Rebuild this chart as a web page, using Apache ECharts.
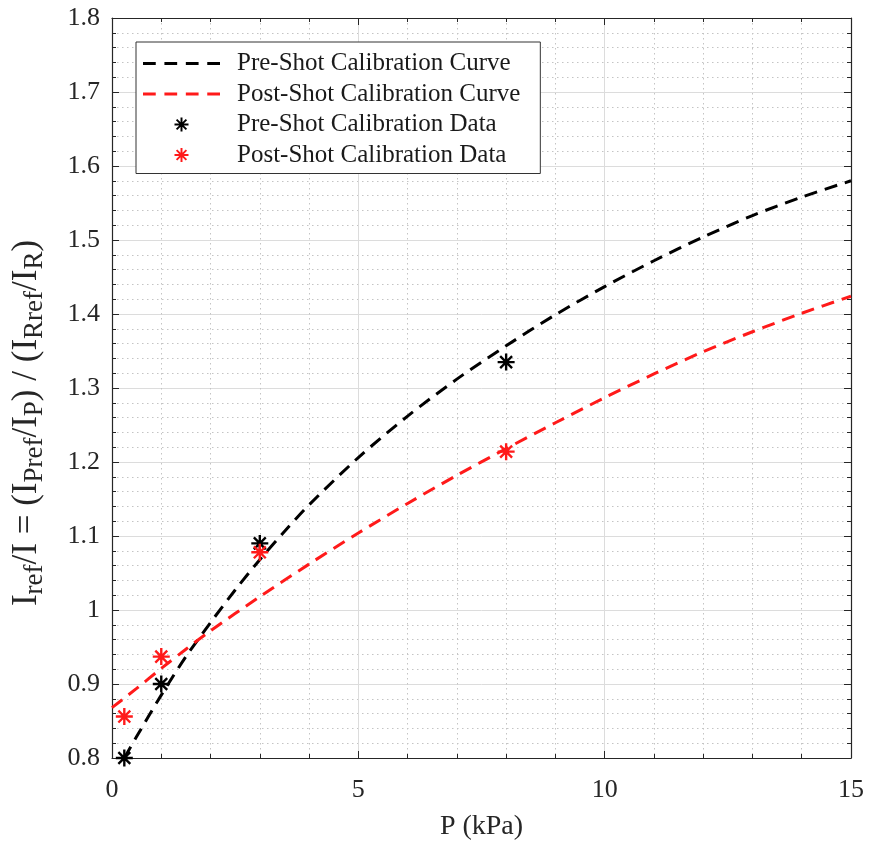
<!DOCTYPE html>
<html>
<head>
<meta charset="utf-8">
<script src="https://cdn.jsdelivr.net/npm/echarts@6/dist/echarts.min.js"></script>
<style>
  html, body { margin: 0; padding: 0; background: #fff; }
  #chart { width: 869px; height: 842px; }
</style>
</head>
<body>
<div id="chart"></div>
<script>
// Calibration measurements (pressure in kPa)
const dataPressure = [0.25, 1, 3, 8];
const preShotData = [0.80, 0.90, 1.09, 1.335];
const postShotData = [0.856, 0.937, 1.078, 1.214];

// Fitted calibration curves, sampled along pressure
const preCurveP = [0.25, 0.5, 1, 1.5, 2, 2.5, 3, 3.5, 4, 5, 6, 7, 8, 9, 10, 11, 12, 13, 14, 15];
const preCurve = [0.800, 0.829, 0.885, 0.937, 0.983, 1.027, 1.068, 1.106, 1.142, 1.206, 1.262, 1.312, 1.357, 1.399, 1.437, 1.472, 1.504, 1.533, 1.558, 1.580];
const postCurveP = [0, 0.5, 1, 1.5, 2, 3, 4, 5, 6, 7, 8, 9, 10, 11, 12, 13, 14, 15];
const postCurve = [0.868, 0.894, 0.921, 0.947, 0.972, 1.018, 1.062, 1.104, 1.144, 1.182, 1.218, 1.253, 1.287, 1.319, 1.349, 1.376, 1.401, 1.424];

const seriesNames = [
  'Pre-Shot Calibration Curve',
  'Post-Shot Calibration Curve',
  'Pre-Shot Calibration Data',
  'Post-Shot Calibration Data'
];

const xRange = { min: 0, max: 15, interval: 5 };
const yRange = { min: 0.8, max: 1.8, interval: 0.1 };

const FONT = '"Liberation Serif", "Times New Roman", serif';
const AXIS_COLOR = '#262626';
const RED = '#ff1a1a';

// eight-armed asterisk marker
const ASTERISK = 'path://M43 0 L57 0 L57 100 L43 100 Z M0 43 L100 43 L100 57 L0 57 Z ' +
  'M10.1 19.9 L19.9 10.1 L89.9 80.1 L80.1 89.9 Z M19.9 89.9 L10.1 80.1 L80.1 10.1 L89.9 19.9 Z';

// four-dash legend key for the dashed curves
const DASH_KEY = 'path://M0 0 L12.5 0 L12.5 3 L0 3 Z M21 0 L33.5 0 L33.5 3 L21 3 Z ' +
  'M42 0 L54.5 0 L54.5 3 L42 3 Z M63 0 L75.5 0 L75.5 3 L63 3 Z';

const zip = (xs, ys) => xs.map((x, i) => [x, ys[i]]);

const chart = echarts.init(document.getElementById('chart'), null, { renderer: 'canvas' });

function valueAxis(range, extra) {
  return Object.assign({
    type: 'value',
    min: range.min,
    max: range.max,
    interval: range.interval,
    axisLine: { show: true, onZero: false, lineStyle: { color: AXIS_COLOR, width: 1.2 } },
    axisTick: { show: true, inside: true, length: 7, lineStyle: { color: AXIS_COLOR, width: 1 } },
    minorTick: { show: true, splitNumber: 5, length: 4, lineStyle: { color: AXIS_COLOR, width: 1 } },
    splitLine: { show: false },
    minorSplitLine: { show: false },
    axisLabel: { show: false }
  }, extra || {});
}

const yName = '{m|I}{s|ref}{m|/I = (I}{s|Pref}{m|/I}{s|P}{m|) / (I}{s|Rref}{m|/I}{s|R}{m|)}';

chart.setOption({
  animation: false,
  backgroundColor: '#fff',
  grid: { left: 112, right: 18, top: 18, bottom: 84, containLabel: false, outerBoundsMode: 'none' },
  legend: {
    left: 136,
    top: 42,
    orient: 'vertical',
    data: [
      { name: seriesNames[0], icon: DASH_KEY },
      { name: seriesNames[1], icon: DASH_KEY },
      { name: seriesNames[2] },
      { name: seriesNames[3] }
    ],
    itemWidth: 77,
    itemHeight: 14,
    itemGap: 5.5,
    padding: [9, 20, 6, 7],
    backgroundColor: '#fff',
    borderColor: '#333',
    borderWidth: 1,
    textStyle: { fontFamily: FONT, fontSize: 25, color: '#1a1a1a', padding: [0, 0, 0, 12] }
  },
  xAxis: [
    valueAxis(xRange, {
      position: 'bottom',
      splitLine: { show: true, lineStyle: { color: '#dcdcdc', width: 1 } },
      minorSplitLine: { show: true, lineStyle: { color: '#c4c4c4', width: 1, type: [1.5, 3.5] } },
      axisLabel: { show: true, margin: 19, fontFamily: FONT, fontSize: 26, color: AXIS_COLOR },
      name: 'P (kPa)',
      nameLocation: 'middle',
      nameGap: 55,
      nameTextStyle: { fontFamily: FONT, fontSize: 28, color: AXIS_COLOR }
    }),
    valueAxis(xRange, { position: 'top' })
  ],
  yAxis: [
    valueAxis(yRange, {
      position: 'left',
      splitLine: { show: true, lineStyle: { color: '#dcdcdc', width: 1 } },
      minorSplitLine: { show: true, lineStyle: { color: '#c4c4c4', width: 1, type: [1.5, 3.5] } },
      axisLabel: {
        show: true, margin: 12, fontFamily: FONT, fontSize: 26, color: AXIS_COLOR,
        formatter: v => String(+v.toFixed(1))
      },
      name: yName,
      nameLocation: 'middle',
      nameRotate: 90,
      nameGap: 68,
      nameTextStyle: {
        color: AXIS_COLOR,
        padding: [0, 70, 0, 0],
        rich: {
          m: { fontFamily: FONT, fontSize: 35, lineHeight: 35, color: AXIS_COLOR },
          s: { fontFamily: FONT, fontSize: 27, lineHeight: 27, padding: [16, 0, 0, 0], color: AXIS_COLOR }
        }
      }
    }),
    valueAxis(yRange, { position: 'right' })
  ],
  series: [
    {
      name: seriesNames[0],
      type: 'line',
      data: zip(preCurveP, preCurve),
      smooth: 0.3,
      symbol: 'none',
      lineStyle: { color: '#000', width: 3, type: [13, 8] },
      itemStyle: { color: '#000' },
      z: 3
    },
    {
      name: seriesNames[1],
      type: 'line',
      data: zip(postCurveP, postCurve),
      smooth: 0.3,
      symbol: 'none',
      lineStyle: { color: RED, width: 3, type: [13, 8] },
      itemStyle: { color: RED },
      z: 3
    },
    {
      name: seriesNames[2],
      type: 'scatter',
      data: zip(dataPressure, preShotData),
      symbol: ASTERISK,
      symbolSize: 17,
      itemStyle: { color: '#000', opacity: 1 },
      z: 4
    },
    {
      name: seriesNames[3],
      type: 'scatter',
      data: zip(dataPressure, postShotData),
      symbol: ASTERISK,
      symbolSize: 17,
      itemStyle: { color: RED, opacity: 1 },
      z: 5
    }
  ]
});
</script>
</body>
</html>
